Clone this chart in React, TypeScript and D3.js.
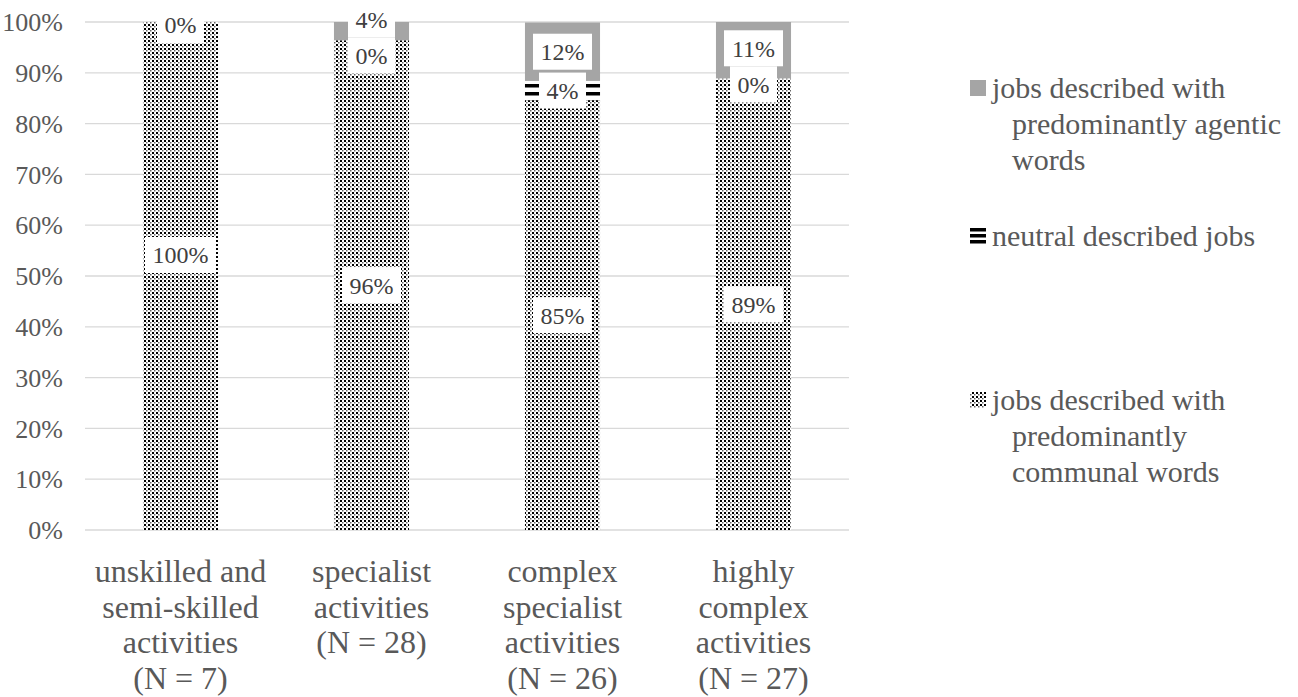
import React from "react";
import * as d3 from "d3";

// Job groups (category axis), wrapped onto lines
const categories: string[][] = [
  ["unskilled and", "semi-skilled", "activities", "(N = 7)"],
  ["specialist", "activities", "(N = 28)"],
  ["complex", "specialist", "activities", "(N = 26)"],
  ["highly", "complex", "activities", "(N = 27)"],
];

// Shares per job group (stacked bottom to top: communal, neutral, agentic)
const communal: number[] = [1.0, 0.964, 0.846, 0.889];
const neutral: number[] = [0.0, 0.0, 0.038, 0.0];
const agentic: number[] = [0.0, 0.036, 0.115, 0.111];

const yTicks: number[] = [0, 0.1, 0.2, 0.3, 0.4, 0.5, 0.6, 0.7, 0.8, 0.9, 1.0];

const legendItems: { key: string; lines: string[] }[] = [
  { key: "agentic", lines: ["jobs described with", "predominantly agentic", "words"] },
  { key: "neutral", lines: ["neutral described jobs"] },
  { key: "communal", lines: ["jobs described with", "predominantly", "communal words"] },
];

const W = 1298;
const H = 697;
const plot = { left: 85, right: 849, top: 22, bottom: 530 };
const FONT = "'Liberation Serif', 'Times New Roman', serif";
const GREY = "#a5a5a5";
const TEXT = "#404040";
const AXIS_TEXT = "#595959";
const LABEL_FS = 24;
const BOX_H = 36;
const MIN_GAP = 36;
const LEGEND_X = 970;
const LEGEND_FS = 30;
const LEGEND_LH = 36;
const legendFirstLineY = [88, 236, 400];

const fmt = d3.format(".0%");

export default function App() {
  const x = d3
    .scaleBand<number>()
    .domain(categories.map((_, i) => i))
    .range([plot.left, plot.right])
    .paddingInner(0.607)
    .paddingOuter(0.3035);
  const y = d3.scaleLinear().domain([0, 1]).range([plot.bottom, plot.top]);

  const rows = categories.map((_, i) => ({
    i,
    communal: communal[i],
    neutral: neutral[i],
    agentic: agentic[i],
  }));
  const keys = ["communal", "neutral", "agentic"];
  const stacked = d3.stack<any>().keys(keys)(rows);
  const fills: Record<string, string> = {
    communal: "url(#dots)",
    neutral: "url(#stripes)",
    agentic: GREY,
  };

  // Data label positions: segment centres, with the two top labels pushed
  // apart when they would overlap.
  const labels: { x: number; y: number; text: string }[] = [];
  rows.forEach((r, i) => {
    const cx = (x(i) as number) + x.bandwidth() / 2;
    const segs = stacked.map((s) => s[i]);
    const comm = segs[0];
    let yc = y((comm[0] + comm[1]) / 2);
    if (comm[1] - comm[0] >= 0.999) yc -= 21;
    labels.push({ x: cx, y: yc, text: fmt(r.communal) });

    const n = segs[1];
    const a = segs[2];
    let yn = y((n[0] + n[1]) / 2);
    let ya = y((a[0] + a[1]) / 2);
    if (r.neutral === 0 && r.agentic === 0) {
      labels.push({ x: cx, y: plot.top + 3, text: fmt(r.agentic) });
      return;
    }
    if (yn - ya < MIN_GAP) {
      const mid = (yn + ya) / 2 + 2;
      ya = mid - MIN_GAP / 2;
      yn = mid + MIN_GAP / 2;
    }
    labels.push({ x: cx, y: yn, text: fmt(r.neutral) });
    labels.push({ x: cx, y: ya, text: fmt(r.agentic) });
  });

  // Times-like glyph widths: digits 0.5em, percent sign 0.833em
  const textWidth = (t: string) =>
    t.split("").reduce((s, c) => s + (c === "%" ? 0.833 : 0.5), 0) * LABEL_FS + 15;

  return (
    <svg width={W} height={H} style={{ display: "block", position: "absolute", left: 0, top: 0, background: "#fff" }}>
      <defs>
        <pattern id="dots" patternUnits="userSpaceOnUse" width={4} height={4}>
          <rect width={4} height={4} fill="#fff" />
          <rect x={0} y={0} width={2} height={2} fill="#000" />
          <rect x={2} y={2} width={1.5} height={1.5} fill="#666" />
        </pattern>
        <pattern id="stripes" patternUnits="userSpaceOnUse" width={8} height={8}>
          <rect width={8} height={8} fill="#fff" />
          <rect x={0} y={4} width={8} height={3.5} fill="#000" />
        </pattern>
      </defs>

      {/* gridlines */}
      {yTicks.map((t) => (
        <line key={t} x1={plot.left} x2={plot.right} y1={y(t)} y2={y(t)} stroke="#d9d9d9" strokeWidth={1.3} />
      ))}

      {/* y axis labels */}
      {yTicks.map((t) => (
        <text key={t} x={63} y={y(t)} dy="0.35em" textAnchor="end" fontFamily={FONT} fontSize={26} fill={AXIS_TEXT}>
          {fmt(t)}
        </text>
      ))}

      {/* stacked bars */}
      {stacked.map((s) => (
        <g key={s.key}>
          {s.map((d, i) => (
            <rect
              key={i}
              x={x(i)}
              width={x.bandwidth()}
              y={y(d[1])}
              height={Math.max(0, y(d[0]) - y(d[1]))}
              fill={fills[s.key]}
            />
          ))}
        </g>
      ))}

      {/* data labels */}
      {labels.map((l, k) => {
        const w = textWidth(l.text);
        return (
          <g key={k}>
            <rect x={l.x - w / 2} y={l.y - BOX_H / 2} width={w} height={BOX_H} fill="#fff" />
            <text x={l.x} y={l.y} dy="0.35em" textAnchor="middle" fontFamily={FONT} fontSize={LABEL_FS} fill={TEXT}>
              {l.text}
            </text>
          </g>
        );
      })}

      {/* category labels */}
      {categories.map((lines, i) => (
        <text key={i} textAnchor="middle" fontFamily={FONT} fontSize={32} fill={AXIS_TEXT}>
          {lines.map((ln, j) => (
            <tspan key={j} x={(x(i) as number) + x.bandwidth() / 2} y={582 + j * 35.5}>
              {ln}
            </tspan>
          ))}
        </text>
      ))}

      {/* legend */}
      {legendItems.map((item, k) => {
        const cy = legendFirstLineY[k];
        const base = cy + LEGEND_FS * 0.32;
        return (
          <g key={item.key}>
            {item.key === "agentic" && <rect x={LEGEND_X} y={cy - 8} width={16} height={16} fill={GREY} />}
            {item.key === "neutral" && (
              <g>
                {[0, 1, 2].map((m) => (
                  <rect key={m} x={LEGEND_X} y={cy - 8 + m * 6} width={16} height={3.5} fill="#000" />
                ))}
              </g>
            )}
            {item.key === "communal" && <rect x={LEGEND_X} y={cy - 8} width={16} height={16} fill="url(#dots)" />}
            {item.lines.map((ln, j) => (
              <text
                key={j}
                x={j === 0 ? LEGEND_X + 22 : LEGEND_X + 42}
                y={base + j * LEGEND_LH}
                fontFamily={FONT}
                fontSize={LEGEND_FS}
                fill={AXIS_TEXT}
              >
                {ln}
              </text>
            ))}
          </g>
        );
      })}
    </svg>
  );
}
